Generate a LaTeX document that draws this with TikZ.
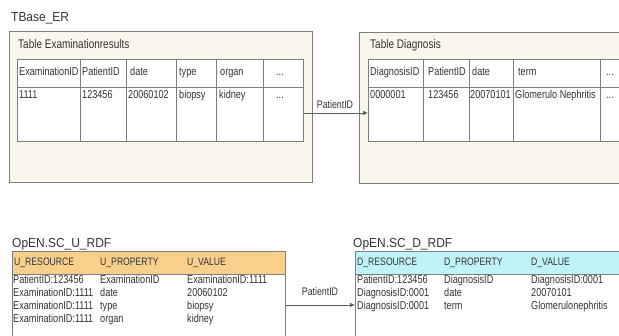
\documentclass[tikz,border=0pt]{standalone}
\usepackage{fontspec}
\usetikzlibrary{arrows.meta}
\newfontfamily\cellfont[FakeStretch=0.8]{Liberation Sans}
\newfontfamily\titlefont[FakeStretch=0.92]{Liberation Sans}
\definecolor{txt}{HTML}{333333}
\definecolor{edge}{HTML}{7F7F7F}
\definecolor{cream}{HTML}{FBF6EC}
\definecolor{orangehd}{HTML}{F9CF8C}
\definecolor{cyanhd}{HTML}{BFF3F7}
\tikzset{
  lbl/.style={anchor=base west,inner sep=0pt,text=txt},
  title/.style={lbl,font=\titlefont\fontsize{13}{15}\selectfont},
  tabtitle/.style={lbl,font=\cellfont\fontsize{12.5}{14}\selectfont},
  cell/.style={lbl,font=\cellfont\fontsize{11.4}{13}\selectfont},
  hcell/.style={lbl,font=\cellfont\fontsize{10.8}{12}\selectfont},
  outerbox/.style={draw=edge,line width=1pt,fill=cream},
  tablebox/.style={draw=edge,line width=0.9pt,fill=white},
  grid/.style={draw=edge,line width=0.9pt},
  conn/.style={draw=txt!80,line width=0.7pt,-{Latex[length=5pt,width=4.5pt]}},
  connlbl/.style={anchor=base,inner sep=0pt,text=txt,font=\cellfont\fontsize{11}{13}\selectfont}
}
\begin{document}
\begin{tikzpicture}[x=1pt,y=-1pt]
\useasboundingbox[fill=white] (0,0) rectangle (619,336);

% ---------- TBase_ER ----------
\node[title] (ttl) at (11,21.5) {TBase\_ER};

% left outer box
\node[outerbox,minimum width=303pt,minimum height=151pt,anchor=north west,inner sep=0pt] (boxE) at (9,31) {};
\node[tabtitle] (tE) at (18,49) {Table Examinationresults};
\node[tablebox,minimum width=286pt,minimum height=82pt,anchor=north west,inner sep=0pt] (tblE) at (17,59) {};
\draw[grid] (17,87) -- (303,87);
\foreach \x in {80,126,176,216,263} \draw[grid] (\x,59) -- (\x,141);
\node[cell] (e1) at (19,76) {ExaminationID};
\node[cell] (e2) at (82,76) {PatientID};
\node[cell] (e3) at (130,76) {date};
\node[cell] (e4) at (179,76) {type};
\node[cell] (e5) at (220,76) {organ};
\node[cell] (e6) at (276,76) {...};
\node[cell] (f1) at (19,99) {1111};
\node[cell] (f2) at (82,99) {123456};
\node[cell] (f3) at (128,99) {20060102};
\node[cell] (f4) at (179,99) {biopsy};
\node[cell] (f5) at (219,99) {kidney};
\node[cell] (f6) at (276,99) {...};

% right outer box
\node[outerbox,minimum width=270pt,minimum height=151pt,anchor=north west,inner sep=0pt] (boxD) at (359,32) {};
\node[tabtitle] (tD) at (370,49) {Table Diagnosis};
\node[tablebox,minimum width=262pt,minimum height=82pt,anchor=north west,inner sep=0pt] (tblD) at (368,59) {};
\draw[grid] (368,87) -- (630,87);
\foreach \x in {423,469,513,600} \draw[grid] (\x,59) -- (\x,141);
\node[cell] (d1) at (370,76) {DiagnosisID};
\node[cell] (d2) at (428,76) {PatientID};
\node[cell] (d3) at (472,76) {date};
\node[cell] (d4) at (518,76) {term};
\node[cell] (d5) at (606,76) {...};
\node[cell] (g1) at (370,99) {0000001};
\node[cell] (g2) at (428,99) {123456};
\node[cell] (g3) at (470,99) {20070101};
\node[cell] (g4) at (515,99) {Glomerulo Nephritis};
\node[cell] (g5) at (606,99) {...};

% connector top
\coordinate (aS) at (tblE.east |- 0,113);
\coordinate (aE) at (tblD.west |- 0,113);
\draw[conn] (aS) -- (aE);
\node[connlbl] (aL) at (335,109) {PatientID};

% ---------- OpEN.SC_U_RDF ----------
\node[title] (ttlU) at (12,248) {OpEN.SC\_U\_RDF};
\node[tablebox,minimum width=273pt,minimum height=95pt,anchor=north west,inner sep=0pt] (tblU) at (12,251) {};
\fill[orangehd] (12.4,251.4) rectangle (284.6,274);
\draw[grid] (12,251) rectangle (285,346);
\draw[grid] (12,274) -- (285,274);
\node[hcell] (u1) at (14,266) {U\_RESOURCE};
\node[hcell] (u2) at (100,266) {U\_PROPERTY};
\node[hcell] (u3) at (187,266) {U\_VALUE};
\node[cell] (u11) at (13,284) {PatientID:123456};
\node[cell] (u12) at (100,284) {ExaminationID};
\node[cell] (u13) at (187,284) {ExaminationID:1111};
\node[cell] (u21) at (13,297) {ExaminationID:1111};
\node[cell] (u22) at (100,297) {date};
\node[cell] (u23) at (187,297) {20060102};
\node[cell] (u31) at (13,310) {ExaminationID:1111};
\node[cell] (u32) at (100,310) {type};
\node[cell] (u33) at (187,310) {biopsy};
\node[cell] (u41) at (13,322.5) {ExaminationID:1111};
\node[cell] (u42) at (100,322.5) {organ};
\node[cell] (u43) at (187,322.5) {kidney};

% ---------- OpEN.SC_D_RDF ----------
\node[title] (ttlDR) at (353,248) {OpEN.SC\_D\_RDF};
\node[tablebox,minimum width=275pt,minimum height=95pt,anchor=north west,inner sep=0pt] (tblDR) at (355,251) {};
\fill[cyanhd] (355.4,251.4) rectangle (630,274);
\draw[grid] (355,251) rectangle (630,346);
\draw[grid] (355,274) -- (630,274);
\node[hcell] (r1) at (357,266) {D\_RESOURCE};
\node[hcell] (r2) at (444,266) {D\_PROPERTY};
\node[hcell] (r3) at (531,266) {D\_VALUE};
\node[cell] (r11) at (357,284) {PatientID:123456};
\node[cell] (r12) at (444,284) {DiagnosisID};
\node[cell] (r13) at (531,284) {DiagnosisID:0001};
\node[cell] (r21) at (357,297) {DiagnosisID:0001};
\node[cell] (r22) at (444,297) {date};
\node[cell] (r23) at (531,297) {20070101};
\node[cell] (r31) at (357,310) {DiagnosisID:0001};
\node[cell] (r32) at (444,310) {term};
\node[cell] (r33) at (531,310) {Glomerulonephritis};

% connector bottom
\coordinate (bS) at (tblU.east |- 0,305);
\coordinate (bE) at (tblDR.west |- 0,305);
\draw[conn] (bS) -- (bE);
\node[connlbl] (bL) at (320,296) {PatientID};
\end{tikzpicture}
\end{document}
